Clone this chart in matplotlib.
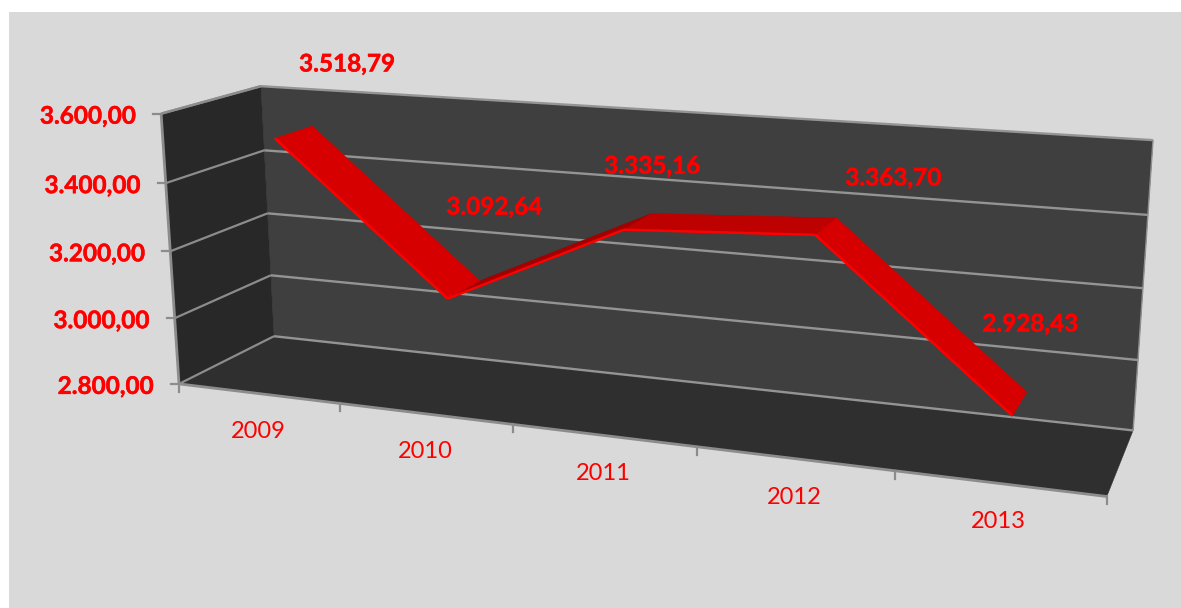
import numpy as np
import matplotlib
matplotlib.use("Agg")
import matplotlib.pyplot as plt
from matplotlib.patches import Polygon, Rectangle
import matplotlib.patheffects as pe

# ---- data ----
years = ["2009", "2010", "2011", "2012", "2013"]
values = [3518.79, 3092.64, 3335.16, 3363.70, 2928.43]
y_ticks = [2800, 3000, 3200, 3400, 3600]

# ---- style / layout ----
RED = "#ff0000"
FONT = "Lato"
Y_MIN, Y_MAX = y_ticks[0], y_ticks[-1]
N = len(years)
Z_FRONT, Z_BACK = 0.3, 0.7
BOLD = [pe.withStroke(linewidth=0.35, foreground=RED)]

# Perspective camera calibrated from the chart box (x slot, y value, depth) -> pixel
calib = [((0, Y_MIN, 0), (179, 384)), ((0, Y_MAX, 0), (161, 114)),
         ((0, Y_MIN, 1), (274, 336)), ((0, Y_MAX, 1), (261, 86)),
         ((N, Y_MIN, 1), (1133, 431)), ((N, Y_MAX, 1), (1153, 140)),
         ((N, Y_MIN, 0), (1107, 496))]
def norm(p):
    return np.array([p[0] / N, (p[1] - Y_MIN) / (Y_MAX - Y_MIN), p[2]], float)
rows, rhs = [], []
for P, (u, v) in calib:
    X, Y, Z = norm(P)
    rows.append([X, Y, Z, 1, 0, 0, 0, 0, -u * X, -u * Y, -u * Z]); rhs.append(u)
    rows.append([0, 0, 0, 0, X, Y, Z, 1, -v * X, -v * Y, -v * Z]); rhs.append(v)
sol = np.linalg.lstsq(np.array(rows, float), np.array(rhs, float), rcond=None)[0]
M = np.append(sol, 1).reshape(3, 4)
def proj(x, y, z):
    h = M @ np.append(norm((x, y, z)), 1)
    return h[0] / h[2], h[1] / h[2]

fig = plt.figure(figsize=(11.81, 6.08), dpi=100, facecolor="white")
ax = fig.add_axes([0, 0, 1, 1])
ax.set_xlim(0, 1181); ax.set_ylim(608, 0); ax.axis("off")
ax.add_patch(Rectangle((9, 12), 1172, 596, fc="#d9d9d9", ec="none", zorder=0))

def poly(pts, color, z=1):
    ax.add_patch(Polygon([proj(*p) for p in pts], closed=True, fc=color, ec=color, lw=0.3, zorder=z))
def line(a, b, color="#8c8c8c", lw=1.5, z=2):
    pa, pb = proj(*a), proj(*b)
    ax.plot([pa[0], pb[0]], [pa[1], pb[1]], color=color, lw=lw, zorder=z, solid_capstyle="butt")

# walls and floor
poly([(0, Y_MIN, 1), (N, Y_MIN, 1), (N, Y_MAX, 1), (0, Y_MAX, 1)], "#3f3f3f")
poly([(0, Y_MIN, 0), (0, Y_MIN, 1), (0, Y_MAX, 1), (0, Y_MAX, 0)], "#282828")
poly([(0, Y_MIN, 0), (N, Y_MIN, 0), (N, Y_MIN, 1), (0, Y_MIN, 1)], "#2f2f2f")

# gridlines
for t in y_ticks:
    line((0, t, 0), (0, t, 1), lw=1.6)
    line((0, t, 1), (N, t, 1), color="#949494", lw=1.7)
line((N, Y_MIN, 1), (N, Y_MAX, 1), color="#8f8f8f", lw=1.0)
line((0, Y_MIN, 0), (0, Y_MAX, 0), lw=2.0)
line((0, Y_MIN, 0), (N, Y_MIN, 0), lw=2.0)
line((0, Y_MAX, 0), (0, Y_MAX, 1), lw=1.8)

# tick marks
for t in y_ticks:
    px, py = proj(0, t, 0)
    ax.plot([px - 8, px], [py, py], color="#8c8c8c", lw=1.6, zorder=2)
for i in range(N + 1):
    px, py = proj(i, Y_MIN, 0)
    ax.plot([px, px], [py, py + 8], color="#8c8c8c", lw=1.6, zorder=2)

# ribbon
seg_colors = {0: "#d60000", 1: "#a30000", 2: "#bd0000", 3: "#d60000"}
for i in [1, 2, 0, 3]:
    x0, x1 = i + 0.5, i + 1.5
    v0, v1 = values[i], values[i + 1]
    poly([(x0, v0, Z_FRONT), (x1, v1, Z_FRONT), (x1, v1, Z_BACK), (x0, v0, Z_BACK)], seg_colors[i], z=3)
    line((x0, v0, Z_FRONT), (x1, v1, Z_FRONT), color=RED, lw=1.8, z=4)

# texts
def fmt(v):
    return f"{v:,.2f}".replace(",", "#").replace(".", ",").replace("#", ".")

label_pos = [(347, 64), (494, 207), (652, 166), (893, 178), (1030, 324)]
for v, (px, py) in zip(values, label_pos):
    ax.text(px, py, fmt(v), color=RED, fontsize=17.5, fontweight="bold", family=FONT,
            ha="center", va="center", zorder=6, path_effects=BOLD)
for t in y_ticks:
    px, py = proj(0, t, 0)
    ax.text(px - 26, py + 2.5, fmt(t), color=RED, fontsize=17.5, fontweight="bold", family=FONT,
            ha="right", va="center", zorder=6, path_effects=BOLD)
year_pos = [(258, 432), (425, 452), (603, 474), (794, 497), (998, 521)]
for s, (px, py) in zip(years, year_pos):
    ax.text(px, py, s, color=RED, fontsize=17, family=FONT, ha="center", va="center", zorder=6)

fig.savefig("out.png", dpi=100, facecolor="white")
